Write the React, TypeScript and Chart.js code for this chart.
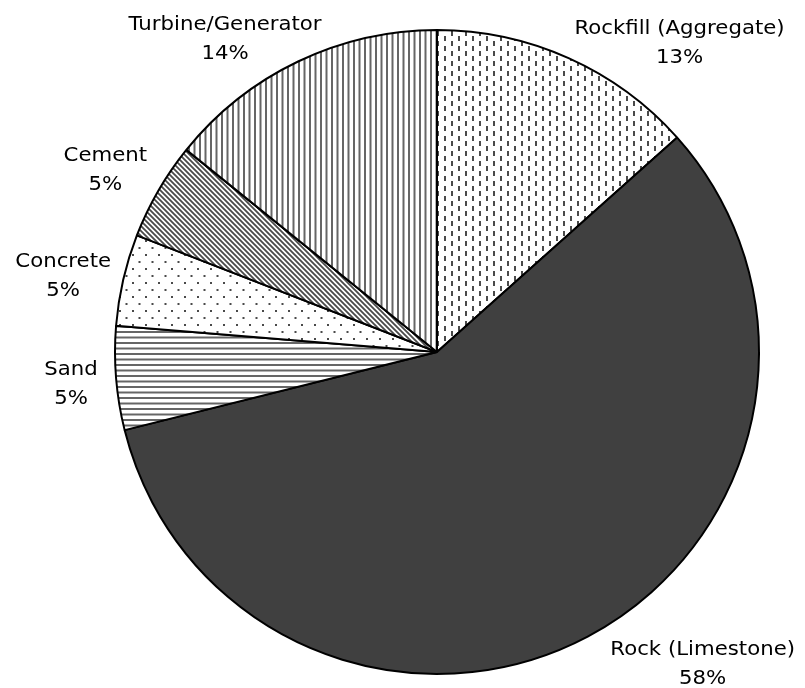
import React, { useEffect, useRef } from "react";
import { Chart, registerables } from "chart.js";

Chart.register(...registerables);

const CATEGORIES = [
  "Rockfill (Aggregate)",
  "Rock (Limestone)",
  "Sand",
  "Concrete",
  "Cement",
  "Turbine/Generator",
];
const SHARES = [13.4, 57.7, 5.2, 4.6, 4.9, 14.2];

// layout: offset of each label block centre from the arc's outer edge at its mid-angle
const LABEL_OFFSETS: [number, number][] = [
  [111, -14],
  [115, 28],
  [-45, 7],
  [-60, -3],
  [-53, -20],
  [-73, -22],
];

function makeTile(w: number, h: number, draw: (c: CanvasRenderingContext2D) => void) {
  const cv = document.createElement("canvas");
  cv.width = w;
  cv.height = h;
  const c = cv.getContext("2d")!;
  c.fillStyle = "#ffffff";
  c.fillRect(0, 0, w, h);
  draw(c);
  return cv;
}

function buildFills(ctx: CanvasRenderingContext2D): (CanvasPattern | string)[] {
  const ink = "#4a4a4a";
  const dashes = makeTile(14, 10, (c) => {
    c.fillStyle = ink;
    c.fillRect(3, 1, 2, 5);
    c.fillRect(10, 6, 2, 5);
    c.fillRect(10, -4, 2, 5);
  });
  const hlines = makeTile(11, 11, (c) => {
    c.fillStyle = "#666666";
    c.fillRect(0, 1, 11, 2);
    c.fillRect(0, 6.5, 11, 2);
  });
  const dots = makeTile(13, 14, (c) => {
    c.fillStyle = ink;
    c.fillRect(2, 2, 2, 2);
    c.fillRect(8.5, 9, 2, 2);
  });
  const diag = makeTile(5, 5, (c) => {
    c.strokeStyle = "#4a4a4a";
    c.lineWidth = 1.8;
    c.beginPath();
    c.moveTo(-1, -1);
    c.lineTo(6, 6);
    c.moveTo(-1, 4);
    c.lineTo(1, 6);
    c.moveTo(4, -1);
    c.lineTo(6, 1);
    c.stroke();
  });
  const vlines = makeTile(11, 11, (c) => {
    c.fillStyle = "#666666";
    c.fillRect(1, 0, 2, 11);
    c.fillRect(6.5, 0, 2, 11);
  });
  return [
    ctx.createPattern(dashes, "repeat")!,
    "#404040",
    ctx.createPattern(hlines, "repeat")!,
    ctx.createPattern(dots, "repeat")!,
    ctx.createPattern(diag, "repeat")!,
    ctx.createPattern(vlines, "repeat")!,
  ];
}

const labelPlugin = {
  id: "outerLabels",
  afterDatasetsDraw(chart: any) {
    const ctx: CanvasRenderingContext2D = chart.ctx;
    const meta = chart.getDatasetMeta(0);
    const data: number[] = chart.data.datasets[0].data;
    const total = data.reduce((a, b) => a + b, 0);
    ctx.save();
    ctx.fillStyle = "#000000";
    ctx.font = "19.5px 'DejaVu Sans'";
    ctx.textAlign = "center";
    ctx.textBaseline = "middle";
    meta.data.forEach((arc: any, i: number) => {
      const p = arc.getProps(["x", "y", "startAngle", "endAngle", "outerRadius"], true);
      const mid = (p.startAngle + p.endAngle) / 2;
      const ex = p.x + Math.cos(mid) * p.outerRadius;
      const ey = p.y + Math.sin(mid) * p.outerRadius;
      const [dx, dy] = LABEL_OFFSETS[i];
      const cx = ex + dx;
      const cy = ey + dy;
      const lines = [String(chart.data.labels[i]), Math.round((data[i] / total) * 100) + "%"];
      lines.forEach((t, k) => {
        ctx.save();
        ctx.translate(cx, cy + (k === 0 ? -15 : 14));
        ctx.scale(1.09, 1);
        ctx.fillText(t, 0, 0);
        ctx.restore();
      });
    });
    ctx.restore();
  },
};

export default function App() {
  const ref = useRef<HTMLCanvasElement>(null);
  useEffect(() => {
    const canvas = ref.current!;
    const ctx = canvas.getContext("2d")!;
    const chart = new Chart(canvas, {
      type: "pie",
      data: {
        labels: CATEGORIES,
        datasets: [
          {
            data: SHARES,
            backgroundColor: buildFills(ctx) as any,
            borderColor: "#000000",
            borderWidth: 2,
            hoverOffset: 0,
          },
        ],
      },
      options: {
        responsive: false,
        animation: false,
        devicePixelRatio: 1,
        layout: { padding: { top: 29, bottom: 13, left: 114, right: 45 } },
        plugins: {
          legend: { display: false },
          tooltip: { enabled: false },
        },
        events: [],
      },
      plugins: [labelPlugin],
    });
    return () => chart.destroy();
  }, []);
  return (
    <div style={{ position: "absolute", left: 0, top: 0, width: 805, height: 688, background: "#fff" }}>
      <canvas ref={ref} width={805} height={688} style={{ display: "block" }} />
    </div>
  );
}
